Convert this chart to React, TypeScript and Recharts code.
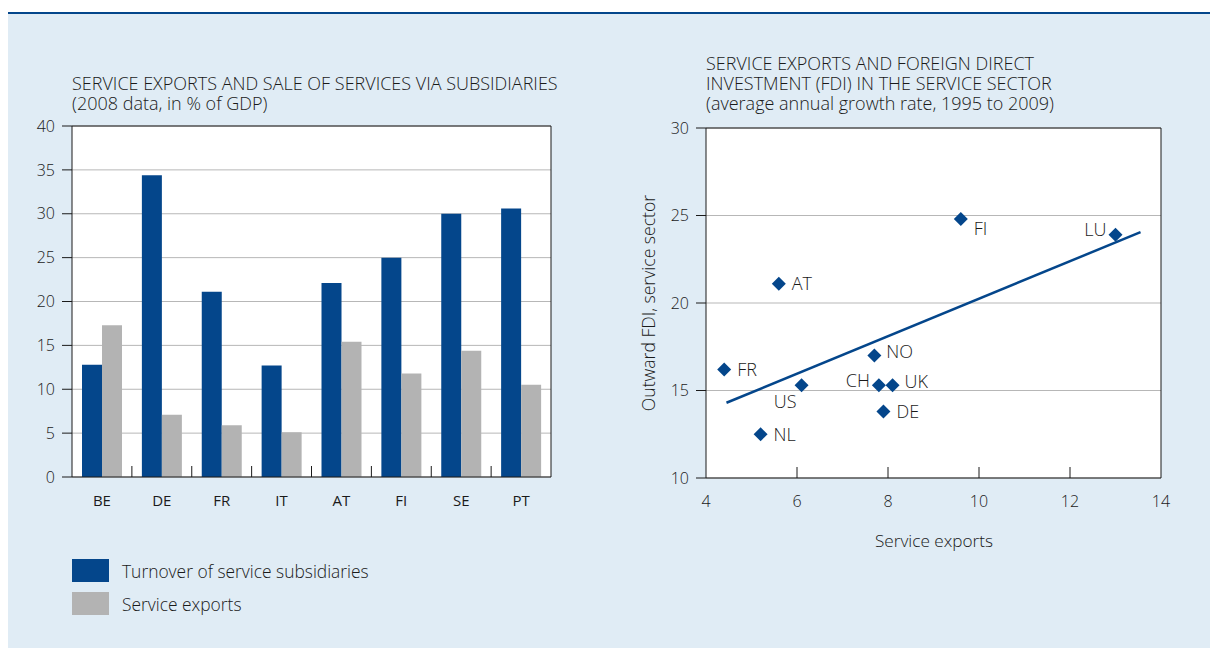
import {
  BarChart,
  Bar,
  XAxis,
  YAxis,
  CartesianGrid,
  ReferenceLine,
  ScatterChart,
  Scatter,
} from 'recharts'

// left panel: 2008, % of GDP
const countries = ['BE', 'DE', 'FR', 'IT', 'AT', 'FI', 'SE', 'PT']
const subsidiaryTurnover = [12.8, 34.4, 21.1, 12.7, 22.1, 25.0, 30.0, 30.6]
const serviceExports = [17.3, 7.1, 5.9, 5.1, 15.4, 11.8, 14.4, 10.5]
const shareTicks = [0, 5, 10, 15, 20, 25, 30, 35, 40]

// right panel: average annual growth 1995-2009
const fdiCountries = ['FI', 'LU', 'AT', 'NO', 'FR', 'US', 'CH', 'UK', 'DE', 'NL']
const exportGrowth = [9.6, 13.0, 5.6, 7.7, 4.4, 6.1, 7.8, 8.1, 7.9, 5.2]
const fdiGrowth = [24.8, 23.9, 21.1, 17.0, 16.2, 15.3, 15.3, 15.3, 13.8, 12.5]
const trendX = [4.45, 13.55]
const trendY = [14.3, 24.05]
const growthTicksX = [4, 6, 8, 10, 12, 14]
const growthTicksY = [10, 15, 20, 25, 30]

const BLUE = '#04468b'
const GREY = '#b3b3b3'
const INK = '#1a1a1a'
const GRID = '#b7b7b7'
const FONT = '"Open Sans", "Noto Sans", sans-serif'
const WEIGHT = 300

// where each point label sits relative to its marker
const labelPlacement: Record<string, string> = {
  FI: 'downRight',
  LU: 'upLeft',
  AT: 'right',
  NO: 'upRight',
  FR: 'right',
  US: 'downLeft',
  CH: 'upLeft',
  UK: 'upRight',
  DE: 'right',
  NL: 'right',
}
const placementOffset: Record<string, { dx: number; dy: number; anchor: string }> = {
  right: { dx: 13, dy: 0, anchor: 'start' },
  upRight: { dx: 12, dy: -4, anchor: 'start' },
  upLeft: { dx: -9, dy: -5, anchor: 'end' },
  downRight: { dx: 13, dy: 10, anchor: 'start' },
  downLeft: { dx: -5, dy: 16, anchor: 'end' },
}

const barData = countries.map((c, i) => ({
  country: c,
  turnover: subsidiaryTurnover[i],
  exports: serviceExports[i],
}))

const scatterData = fdiCountries.map((c, i) => ({
  country: c,
  x: exportGrowth[i],
  y: fdiGrowth[i],
}))

const BAR_W = 612
const BAR_MARGIN = { top: 16, right: 9, bottom: 23, left: 4 }
const AXIS_W = 60
const bandWidth = (BAR_W - BAR_MARGIN.left - BAR_MARGIN.right - 2 * AXIS_W) / countries.length

function CategoryTick(props: any) {
  const { x, y, payload, index } = props
  const left = x - bandWidth / 2
  return (
    <g>
      {index > 0 && <line x1={left} x2={left} y1={y} y2={y - 11} stroke={INK} />}
      <text
        x={x}
        y={y + 29}
        textAnchor="middle"
        fill={INK}
        fontSize={15}
        fontFamily={FONT}
        fontWeight={400}
      >
        {payload.value}
      </text>
    </g>
  )
}

function GrowthTick(props: any) {
  const { x, y, payload, index, visibleTicksCount } = props
  const inner = index > 0 && index < visibleTicksCount - 1
  return (
    <g>
      {inner && <line x1={x} x2={x} y1={y} y2={y - 11} stroke={INK} />}
      <text
        x={x}
        y={y + 29}
        textAnchor="middle"
        fill={INK}
        fontSize={16}
        fontFamily={FONT}
        fontWeight={WEIGHT}
      >
        {payload.value}
      </text>
    </g>
  )
}

function Diamond(props: any) {
  const { cx, cy, payload } = props
  const r = 7
  const place = placementOffset[labelPlacement[payload.country] || 'right']
  return (
    <g>
      <polygon
        points={`${cx},${cy - r} ${cx + r},${cy} ${cx},${cy + r} ${cx - r},${cy}`}
        fill={BLUE}
      />
      <text
        x={cx + place.dx}
        y={cy + place.dy}
        dy="0.36em"
        textAnchor={place.anchor}
        fill={INK}
        fontSize={18}
        fontFamily={FONT}
        fontWeight={WEIGHT}
      >
        {payload.country}
      </text>
    </g>
  )
}

const tickStyle = { fill: INK, fontSize: 16, fontFamily: FONT, fontWeight: WEIGHT }

function SharesChart() {
  return (
    <BarChart width={BAR_W} height={420} data={barData} margin={BAR_MARGIN} barSize={20} barGap={0}>
      <CartesianGrid vertical={false} stroke={GRID} fill="#ffffff" />
      <XAxis
        dataKey="country"
        interval={0}
        tickSize={0}
        tickMargin={0}
        height={30}
        tickLine={false}
        axisLine={{ stroke: INK }}
        tick={CategoryTick}
      />
      <YAxis
        domain={[0, 40]}
        ticks={shareTicks}
        width={AXIS_W}
        tickSize={10}
        tickMargin={7}
        tick={tickStyle}
        tickLine={{ stroke: INK }}
        axisLine={{ stroke: INK }}
      />
      <YAxis
        yAxisId="right"
        orientation="right"
        domain={[0, 40]}
        ticks={shareTicks}
        width={AXIS_W}
        tickSize={11}
        tickMargin={7}
        tick={tickStyle}
        tickLine={{ stroke: INK }}
        axisLine={{ stroke: INK }}
      />
      <ReferenceLine y={40} stroke={INK} />
      <Bar dataKey="turnover" fill={BLUE} isAnimationActive={false} />
      <Bar dataKey="exports" fill={GREY} isAnimationActive={false} />
    </BarChart>
  )
}

function GrowthChart() {
  return (
    <ScatterChart width={578} height={420} margin={{ top: 18, right: 7, bottom: 22, left: 6 }}>
      <CartesianGrid vertical={false} stroke={GRID} fill="#ffffff" />
      <XAxis
        type="number"
        dataKey="x"
        domain={[4, 14]}
        ticks={growthTicksX}
        interval={0}
        height={30}
        tickSize={0}
        tickMargin={0}
        tickLine={false}
        axisLine={{ stroke: INK }}
        tick={GrowthTick}
      />
      <YAxis
        type="number"
        dataKey="y"
        domain={[10, 30]}
        ticks={growthTicksY}
        width={60}
        tickSize={10}
        tickMargin={7}
        tick={tickStyle}
        tickLine={{ stroke: INK }}
        axisLine={{ stroke: INK }}
      />
      <YAxis
        yAxisId="right"
        orientation="right"
        type="number"
        domain={[10, 30]}
        ticks={growthTicksY}
        width={50}
        tickSize={11}
        tickMargin={7}
        tick={tickStyle}
        tickLine={{ stroke: INK }}
        axisLine={{ stroke: INK }}
      />
      <ReferenceLine y={30} stroke={INK} />
      <ReferenceLine
        segment={[
          { x: trendX[0], y: trendY[0] },
          { x: trendX[1], y: trendY[1] },
        ]}
        stroke={BLUE}
        strokeWidth={2.5}
      />
      <Scatter data={scatterData} shape={Diamond} isAnimationActive={false} />
    </ScatterChart>
  )
}

const textStyle = {
  fontFamily: FONT,
  fontWeight: WEIGHT,
  color: INK,
  fontSize: 18,
  lineHeight: '20px',
}

export default function App() {
  // root sits at page (8, 8); positions below are page coords minus 8
  return (
    <div style={{ position: 'relative', width: 1210, height: 640, fontFamily: FONT }}>
      <div
        style={{
          position: 'absolute',
          left: 0,
          top: 4,
          width: 1210,
          height: 636,
          background: '#e0ecf5',
          borderTop: `2px solid ${BLUE}`,
          boxSizing: 'border-box',
        }}
      />

      <div style={{ ...textStyle, position: 'absolute', left: 64, top: 65, whiteSpace: 'nowrap' }}>
        SERVICE EXPORTS AND SALE OF SERVICES VIA SUBSIDIARIES
        <br />
        (2008 data, in % of GDP)
      </div>
      <div style={{ position: 'absolute', left: 0, top: 102 }}>
        <SharesChart />
      </div>

      <div style={{ position: 'absolute', left: 64, top: 546 }}>
        {[
          { label: 'Turnover of service subsidiaries', color: BLUE },
          { label: 'Service exports', color: GREY },
        ].map((item) => (
          <div key={item.label} style={{ display: 'flex', alignItems: 'center', height: 33 }}>
            <div style={{ width: 37, height: 23, background: item.color }} />
            <span style={{ ...textStyle, fontSize: 17.4, marginLeft: 13 }}>{item.label}</span>
          </div>
        ))}
      </div>

      <div style={{ ...textStyle, position: 'absolute', left: 698, top: 45, whiteSpace: 'nowrap' }}>
        SERVICE EXPORTS AND FOREIGN DIRECT
        <br />
        INVESTMENT (FDI) IN THE SERVICE SECTOR
        <br />
        (average annual growth rate, 1995 to 2009)
      </div>
      <div style={{ position: 'absolute', left: 632, top: 102 }}>
        <GrowthChart />
      </div>
      <div
        style={{
          ...textStyle,
          fontSize: 17.6,
          position: 'absolute',
          left: 640 - 150,
          top: 295 - 10,
          width: 300,
          textAlign: 'center',
          transform: 'rotate(-90deg)',
        }}
      >
        Outward FDI, service sector
      </div>
      <div
        style={{
          ...textStyle,
          fontSize: 17.2,
          position: 'absolute',
          left: 926 - 150,
          top: 533 - 10,
          width: 300,
          textAlign: 'center',
        }}
      >
        Service exports
      </div>
    </div>
  )
}
